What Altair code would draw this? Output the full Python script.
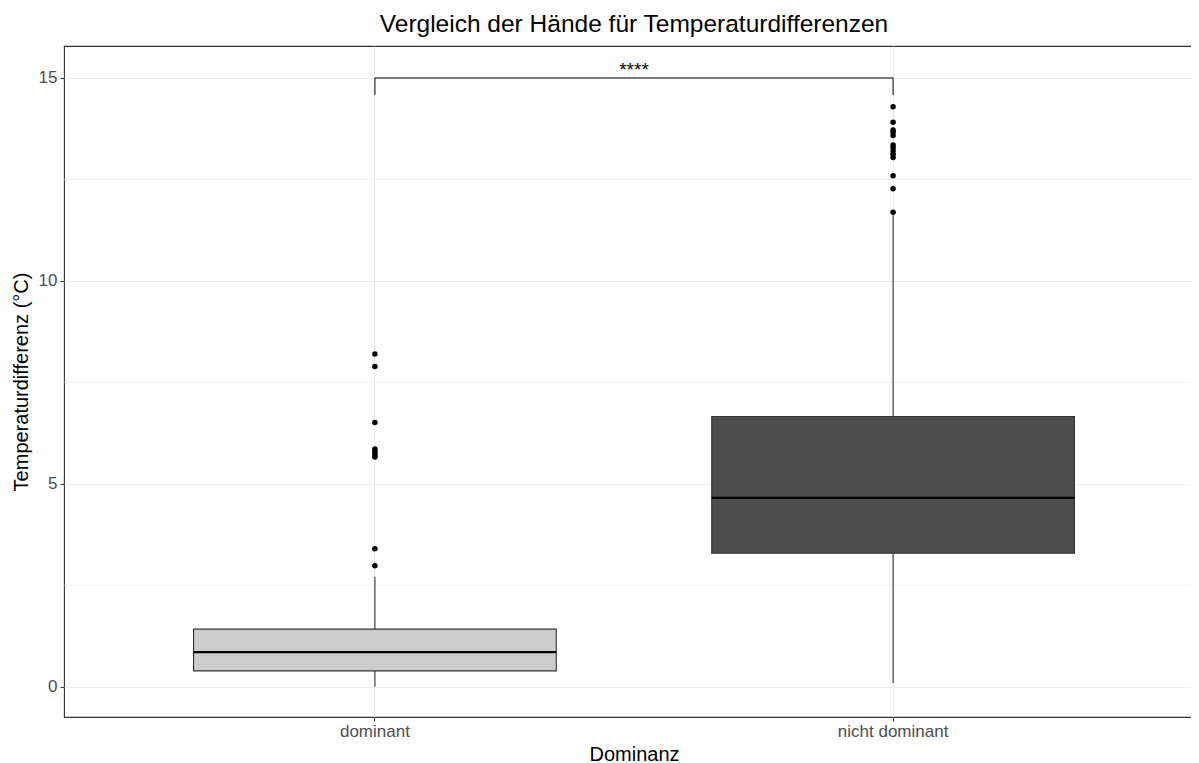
import altair as alt
import pandas as pd

FONT = "Liberation Sans"

categories = ["dominant", "nicht dominant"]
q1 = [0.39, 3.29]
median = [0.855, 4.655]
q3 = [1.42, 6.66]
whisker_lo = [0.0, 0.09]
whisker_hi = [2.71, 11.62]
fills = ["#cccccc", "#4d4d4d"]

outliers_dominant = [8.20, 7.89, 6.51, 5.86, 5.80, 5.75, 5.70, 5.66, 3.40, 2.98]
outliers_nicht = [14.29, 13.91, 13.72, 13.66, 13.58, 13.35, 13.28, 13.20, 13.12,
                  13.04, 12.59, 12.27, 11.69]

minor_breaks = [2.5, 7.5, 12.5]
major_breaks = [0, 5, 10, 15]

bracket_y = 15.0
bracket_tip = 14.58
signif_label = "****"
signif_y = 15.27

stats = pd.DataFrame({
    "Dominanz": categories, "q1": q1, "median": median, "q3": q3,
    "lo": whisker_lo, "hi": whisker_hi, "fill": fills,
})
out = pd.DataFrame({
    "Dominanz": ["dominant"] * len(outliers_dominant) + ["nicht dominant"] * len(outliers_nicht),
    "value": outliers_dominant + outliers_nicht,
})
minor_df = pd.DataFrame({"y": minor_breaks})
bracket_h = pd.DataFrame({"Dominanz": [categories[0]], "x2": [categories[1]], "y": [bracket_y]})
bracket_v = pd.DataFrame({"Dominanz": categories, "y": [bracket_y] * 2, "y2": [bracket_tip] * 2})
label_df = pd.DataFrame({"Dominanz": [categories[0]], "y": [signif_y], "t": [signif_label]})

Y_DOMAIN = [-0.746, 15.788]

xscale = alt.Scale(type="band", domain=categories, paddingInner=0, paddingOuter=0.1)
xaxis = alt.Axis(
    title="Dominanz", labelAngle=0, bandPosition=0.5,
    grid=True, gridColor="#ebebeb", gridWidth=1,
    tickColor="#333333", tickSize=4, labelPadding=2,
    titlePadding=5,
)


def xenc(band=None):
    if band is None:
        return alt.X("Dominanz:N", sort=categories, scale=xscale, axis=xaxis)
    return alt.X("Dominanz:N", sort=categories, scale=xscale, axis=xaxis, bandPosition=band)


yscale = alt.Scale(domain=Y_DOMAIN, nice=False, zero=False)
yaxis = alt.Axis(
    title="Temperaturdifferenz (°C)", values=major_breaks, grid=True,
    gridColor="#ebebeb", gridWidth=1, tickColor="#333333", tickSize=4,
    labelPadding=3, titlePadding=7,
)

minor = alt.Chart(minor_df).mark_rule(color="#ebebeb", strokeWidth=0.6).encode(
    y=alt.Y("y:Q", scale=yscale, axis=yaxis),
    x=alt.value(0), x2=alt.value(1140),
)

base = alt.Chart(stats)

whisk_lo = base.mark_rule(color="#333333", strokeWidth=1.1).encode(
    x=xenc(), y=alt.Y("lo:Q", scale=yscale, axis=yaxis), y2="q1:Q")
whisk_hi = base.mark_rule(color="#333333", strokeWidth=1.1).encode(
    x=xenc(), y=alt.Y("q3:Q", scale=yscale, axis=yaxis), y2="hi:Q")

box = base.mark_bar(width={"band": 0.7}, stroke="#333333", strokeWidth=1.1).encode(
    x=xenc(),
    y=alt.Y("q1:Q", scale=yscale, axis=yaxis), y2="q3:Q",
    fill=alt.Fill("fill:N", scale=None),
)
med = base.mark_bar(width={"band": 0.7}, stroke="#000000", strokeWidth=2.2, fill="#000000").encode(
    x=xenc(), y=alt.Y("median:Q", scale=yscale, axis=yaxis), y2="median:Q")

pts = alt.Chart(out).mark_circle(color="#000000", opacity=1, size=30).encode(
    x=xenc(), y=alt.Y("value:Q", scale=yscale, axis=yaxis))

br_h = alt.Chart(bracket_h).mark_rule(color="#000000", strokeWidth=1).encode(
    x=xenc(0.5),
    x2="x2:N",
    y=alt.Y("y:Q", scale=yscale, axis=yaxis),
)
br_v = alt.Chart(bracket_v).mark_rule(color="#000000", strokeWidth=1).encode(
    x=xenc(), y=alt.Y("y:Q", scale=yscale, axis=yaxis), y2="y2:Q")

lbl = alt.Chart(label_df).mark_text(font=FONT, fontSize=19, color="#000000", baseline="middle", dy=3).encode(
    x=xenc(1.0),
    y=alt.Y("y:Q", scale=yscale, axis=yaxis),
    text="t:N",
)

chart = alt.layer(minor, whisk_lo, whisk_hi, box, med, pts, br_h, br_v, lbl).properties(
    width=1140, height=671,
    autosize=alt.AutoSizeParams(type="none"),
    padding={"left": 56, "top": 38, "right": -13, "bottom": 46},
    background="white",
    title=alt.TitleParams(
        "Vergleich der Hände für Temperaturdifferenzen",
        font=FONT, fontSize=24.5, fontWeight="normal", color="#000000",
        anchor="middle", offset=-10, baseline="alphabetic",
    ),
).configure_view(
    stroke="#333333", strokeWidth=1.1,
).configure_axis(
    labelFont=FONT, labelFontSize=17, labelColor="#4d4d4d",
    titleFont=FONT, titleFontSize=20, titleColor="#000000", titleFontWeight="normal",
    domain=False,
)

chart.save("out.html", embed_options={"renderer": "svg", "actions": False})
